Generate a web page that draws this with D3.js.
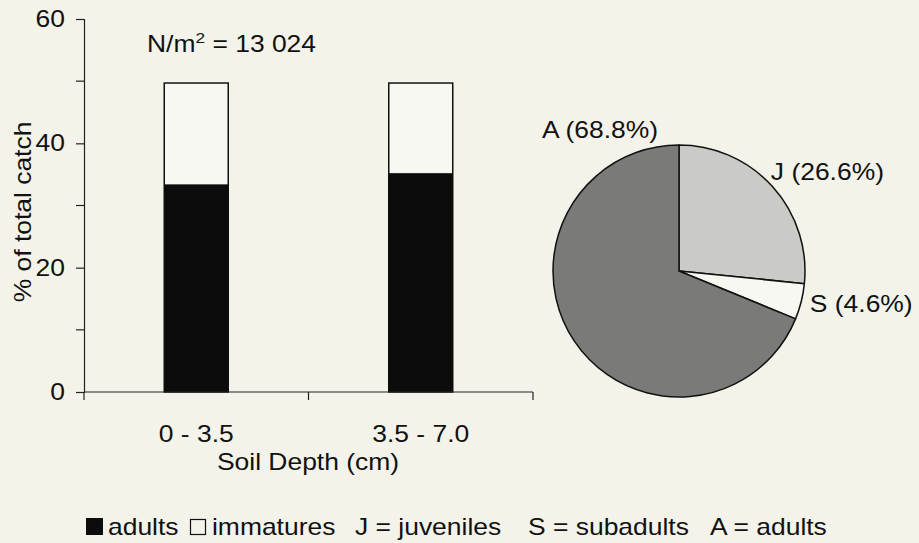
<!DOCTYPE html>
<html>
<head>
<meta charset="utf-8">
<script src="https://cdn.jsdelivr.net/npm/d3@7"></script>
<style>
  body { margin: 0; background: #f3f3ea; }
  text { font-family: "Liberation Sans", Arial, sans-serif; fill: #111; }
</style>
</head>
<body>
<div id="chart"></div>
<script>
// data
var depths = ["0 - 3.5", "3.5 - 7.0"];
var adults = [33.4, 35.2];
var immatures = [16.3, 14.5];
var yTicks = [0, 20, 40, 60];
var yMinorTicks = [10, 30, 50];

var pieLabels = ["J", "S", "A"];
var piePercents = [26.6, 4.6, 68.8];

var svgWidth = 919;
var svgHeight = 543;
var fontSize = "23px";
var stretch = 1.15; // the scanned lettering is a little wider than Liberation Sans

var svg = d3.select("#chart")
  .append("svg")
  .attr("width", svgWidth)
  .attr("height", svgHeight);

svg.append("rect")
  .attr("width", svgWidth)
  .attr("height", svgHeight)
  .attr("fill", "#f3f3ea");

// text helper: a group placed at (x, y) with horizontally widened lettering
function addText(parent, x, y, str, anchor, rotate) {
  var g = parent.append("g")
    .attr("transform", `translate(${x}, ${y})` + (rotate ? ` rotate(${rotate})` : ""));
  return g.append("text")
    .attr("transform", `scale(${stretch}, 1)`)
    .attr("text-anchor", anchor || "start")
    .attr("font-size", fontSize)
    .text(str);
}

// ---- bar chart ----
var x = d3.scaleBand()
  .domain(depths)
  .range([84, 533]);

var y = d3.scaleLinear()
  .domain([0, 60])
  .range([392, 19]);

var barW = x.bandwidth() * 0.285;

var stacked = depths.map(function(d, i) {
  return { depth: d, adults: adults[i], total: adults[i] + immatures[i] };
});

// immatures (white, outlined) drawn as the full stack, adults over it
svg.append("g")
  .selectAll("rect")
  .data(stacked)
  .enter()
  .append("rect")
  .attr("x", d => x(d.depth) + (x.bandwidth() - barW) / 2)
  .attr("y", d => y(d.total))
  .attr("width", barW)
  .attr("height", d => y(0) - y(d.total))
  .attr("fill", "#f8f8f2")
  .attr("stroke", "#111")
  .attr("stroke-width", 1.5);

svg.append("g")
  .selectAll("rect")
  .data(stacked)
  .enter()
  .append("rect")
  .attr("x", d => x(d.depth) + (x.bandwidth() - barW) / 2)
  .attr("y", d => y(d.adults))
  .attr("width", barW)
  .attr("height", d => y(0) - y(d.adults))
  .attr("fill", "#0c0c0c");

// y axis
var leftAxis = d3.axisLeft(y)
  .tickValues(yTicks)
  .tickSize(8)
  .tickPadding(11);

var yAxis = svg.append("g")
  .attr("transform", "translate(84,0)")
  .call(leftAxis);
yAxis.select(".domain").attr("stroke", "#222").attr("stroke-width", 1.2);
yAxis.selectAll(".tick line").attr("stroke", "#222").attr("stroke-width", 1.2);
yAxis.selectAll("text")
  .attr("x", -19 / stretch)
  .attr("transform", `scale(${stretch}, 1)`)
  .attr("font-size", fontSize)
  .attr("font-family", "Liberation Sans, Arial, sans-serif")
  .attr("fill", "#111");

svg.append("g")
  .selectAll("line")
  .data(yMinorTicks)
  .enter()
  .append("line")
  .attr("x1", 76)
  .attr("x2", 84)
  .attr("y1", d => y(d))
  .attr("y2", d => y(d))
  .attr("stroke", "#222")
  .attr("stroke-width", 1.2);

// x axis: line with ticks at band edges, labels at band centres
var edges = depths.map(d => x(d)).concat([x.range()[1]]);
svg.append("line")
  .attr("x1", 84)
  .attr("x2", 533)
  .attr("y1", y(0))
  .attr("y2", y(0))
  .attr("stroke", "#222")
  .attr("stroke-width", 1.2);

svg.append("g")
  .selectAll("line")
  .data(edges)
  .enter()
  .append("line")
  .attr("x1", d => d)
  .attr("x2", d => d)
  .attr("y1", y(0))
  .attr("y2", y(0) + 8)
  .attr("stroke", "#222")
  .attr("stroke-width", 1.2);

depths.forEach(function(d) {
  addText(svg, x(d) + x.bandwidth() / 2, 442, d, "middle");
});

addText(svg, 308, 470, "Soil Depth (cm)", "middle");
addText(svg, 31, 212, "% of total catch", "middle", -90);

var nLabel = addText(svg, 147, 52, "N/m", "start");
nLabel.append("tspan").attr("dy", -9).attr("font-size", "15px").text("2");
nLabel.append("tspan").attr("dy", 9).text(" = 13 024");

// ---- pie ----
var cx = 679, cy = 271, r = 126;
var pieColors = { J: "#cacac6", S: "#f8f8f3", A: "#7a7a78" };

var pieData = pieLabels.map(function(l, i) {
  return { label: l, value: piePercents[i] };
});

var pie = d3.pie()
  .sort(null)
  .value(d => d.value);

var arc = d3.arc()
  .innerRadius(0)
  .outerRadius(r);

var pieGroup = svg.append("g")
  .attr("transform", `translate(${cx}, ${cy})`);

var arcs = pie(pieData);

pieGroup.selectAll("path")
  .data(arcs)
  .enter()
  .append("path")
  .attr("d", arc)
  .attr("fill", d => pieColors[d.data.label])
  .attr("stroke", "#111")
  .attr("stroke-width", 1.5)
  .attr("stroke-linejoin", "round");

// labels: J and S just outside their slices, A above the pie on the left
var labelArc = d3.arc()
  .innerRadius(r + 14)
  .outerRadius(r + 14);

arcs.forEach(function(d) {
  var txt = `${d.data.label} (${d.data.value}%)`;
  if (d.data.label === "A") {
    addText(pieGroup, -21, -r - 7, txt, "end");
  } else {
    var c = labelArc.centroid(d);
    var dx = d.data.label === "J" ? -12 : -5;
    var dy = d.data.label === "J" ? 3 : 7;
    addText(pieGroup, c[0] + dx, c[1] + dy, txt, "start");
  }
});

// ---- legend ----
var legendY = 535;
svg.append("rect")
  .attr("x", 86).attr("y", legendY - 17)
  .attr("width", 17).attr("height", 17)
  .attr("fill", "#0c0c0c");
addText(svg, 108, legendY, "adults");
svg.append("rect")
  .attr("x", 190.5).attr("y", legendY - 15.5)
  .attr("width", 15).attr("height", 15)
  .attr("fill", "none")
  .attr("stroke", "#111")
  .attr("stroke-width", 1.2);
addText(svg, 212, legendY, "immatures");
addText(svg, 355, legendY, "J = juveniles");
addText(svg, 528, legendY, "S = subadults");
addText(svg, 710, legendY, "A = adults");
</script>
</body>
</html>
